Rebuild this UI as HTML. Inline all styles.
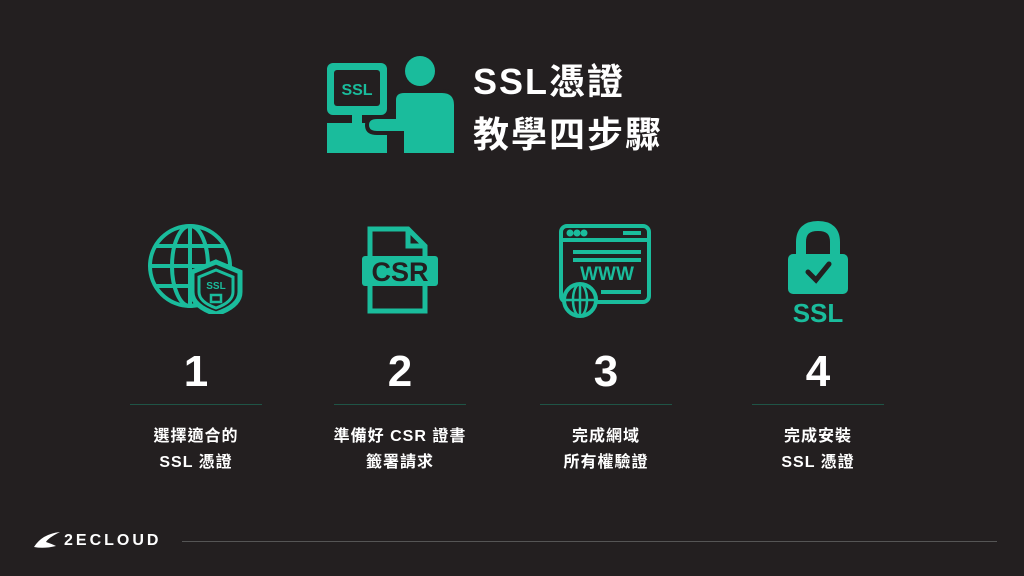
<!DOCTYPE html><html><head><meta charset="utf-8"><style>
body{margin:0;width:1024px;height:576px;background:#231f20;position:relative;overflow:hidden;font-family:"Liberation Sans","Noto Sans CJK TC",sans-serif;color:#fff}
.t{position:absolute;left:473px;font-size:36px;font-weight:bold;line-height:40px;letter-spacing:2px}
.n{position:absolute;top:348px;width:140px;text-align:center;font-size:44px;font-weight:bold;line-height:48px}
.l{position:absolute;top:404px;width:132px;height:1px;background:#1f5446}
.c{position:absolute;top:424px;width:200px;text-align:center;font-size:16px;font-weight:bold;line-height:26px;letter-spacing:1px}
svg{position:absolute}
</style></head><body>
<svg style="left:322px;top:55px" width="135" height="102" viewBox="0 0 135 102">
<g fill="#1abc9c">
<rect x="5" y="8" width="60" height="52" rx="6"/>
<rect x="12" y="15" width="46" height="36" rx="3" fill="#231f20"/>
<text x="35" y="40" text-anchor="middle" font-family="Liberation Sans" font-weight="bold" font-size="16" fill="#1abc9c">SSL</text>
<rect x="30" y="60" width="10" height="12"/>
<rect x="5" y="68" width="60" height="30"/>
<circle cx="98" cy="16" r="15"/>
<path d="M72 45 Q72 36 82 36 L120 36 Q134 36 134 50 L134 100 L80 100 L80 78 L55 78 Q45 78 45 70 Q45 62 55 62 L72 62 Z" stroke="#231f20" stroke-width="4"/>
</g></svg>
<div class="t" style="top:62px">SSL憑證</div>
<div class="t" style="top:115px">教學四步驟</div>

<svg style="left:146px;top:222px" width="100" height="92" viewBox="0 0 100 92" fill="none" stroke="#1abc9c" stroke-width="4">
<circle cx="44" cy="44" r="40"/>
<ellipse cx="44" cy="44" rx="18" ry="40"/>
<line x1="44" y1="4" x2="44" y2="84"/><line x1="4" y1="44" x2="84" y2="44"/>
<line x1="10" y1="24" x2="78" y2="24"/><line x1="10" y1="64" x2="78" y2="64"/>
<path d="M70 40 L94 50 L94 70 Q94 84 70 92 Q46 84 46 70 L46 50 Z" fill="#231f20" stroke-width="5"/>
<path d="M70 48 L87 55 L87 70 Q87 80 70 86 Q53 80 53 70 L53 55 Z" stroke-width="3"/>
<text x="70" y="67" text-anchor="middle" font-family="Liberation Sans" font-weight="bold" font-size="10" fill="#1abc9c" stroke="none">SSL</text>
<rect x="65" y="73" width="10" height="7" stroke-width="2.5"/>
</svg>

<svg style="left:360px;top:226px" width="80" height="88" viewBox="0 0 80 88" fill="none" stroke="#1abc9c" stroke-width="5">
<path d="M10 30 L10 3 L48 3 L65 20 L65 30 M10 60 L10 85 L65 85 L65 60"/>
<path d="M48 3 L48 20 L65 20"/>
<rect x="2" y="30" width="76" height="30" rx="3" fill="#1abc9c" stroke="none"/>
<text x="40" y="55" text-anchor="middle" font-family="Liberation Sans" font-weight="bold" font-size="27" fill="#231f20" stroke="none">CSR</text>
</svg>

<svg style="left:557px;top:222px" width="96" height="98" viewBox="0 0 96 98" fill="none" stroke="#1abc9c" stroke-width="4">
<rect x="4" y="4" width="88" height="76" rx="6"/>
<line x1="4" y1="18" x2="92" y2="18"/>
<circle cx="13" cy="11" r="1.5" fill="#1abc9c"/><circle cx="20" cy="11" r="1.5" fill="#1abc9c"/><circle cx="27" cy="11" r="1.5" fill="#1abc9c"/>
<line x1="66" y1="11" x2="84" y2="11"/>
<line x1="16" y1="30" x2="84" y2="30"/><line x1="16" y1="38" x2="84" y2="38"/>
<text x="50" y="58" text-anchor="middle" font-family="Liberation Sans" font-weight="bold" font-size="19" fill="#1abc9c" stroke="none">WWW</text>
<line x1="44" y1="70" x2="84" y2="70"/>
<circle cx="23" cy="78" r="16" fill="#231f20"/>
<ellipse cx="23" cy="78" rx="7" ry="16" stroke-width="2.5"/>
<line x1="7" y1="78" x2="39" y2="78" stroke-width="2.5"/><line x1="23" y1="62" x2="23" y2="94" stroke-width="2.5"/>
</svg>

<svg style="left:785px;top:220px" width="66" height="104" viewBox="0 0 66 104">
<path d="M16 36 L16 22 Q16 6 33 6 Q50 6 50 22 L50 36" fill="none" stroke="#1abc9c" stroke-width="10"/>
<rect x="3" y="34" width="60" height="40" rx="5" fill="#1abc9c"/>
<path d="M23 52 L31 60 L44 44" fill="none" stroke="#231f20" stroke-width="5" stroke-linecap="round"/>
<text x="33" y="102" text-anchor="middle" font-family="Liberation Sans" font-weight="bold" font-size="26" fill="#1abc9c">SSL</text>
</svg>

<div class="n" style="left:126px">1</div><div class="n" style="left:330px">2</div><div class="n" style="left:536px">3</div><div class="n" style="left:748px">4</div>
<div class="l" style="left:130px"></div><div class="l" style="left:334px"></div><div class="l" style="left:540px"></div><div class="l" style="left:752px"></div>
<div class="c" style="left:96px">選擇適合的<br>SSL 憑證</div>
<div class="c" style="left:300px">準備好 CSR 證書<br>籤署請求</div>
<div class="c" style="left:506px">完成網域<br>所有權驗證</div>
<div class="c" style="left:718px">完成安裝<br>SSL 憑證</div>

<svg style="left:32px;top:530px" width="30" height="20" viewBox="0 0 30 20"><path d="M2 17 Q10 4 28 2 Q16 8 14 12 Q20 14 24 16 Q12 19 2 17 Z" fill="#fff"/></svg>
<div style="position:absolute;left:64px;top:531px;font-size:16px;font-weight:bold;letter-spacing:3px;line-height:20px">2ECLOUD</div>
<div style="position:absolute;left:182px;top:541px;width:815px;height:1px;background:#555"></div>
</body></html>
